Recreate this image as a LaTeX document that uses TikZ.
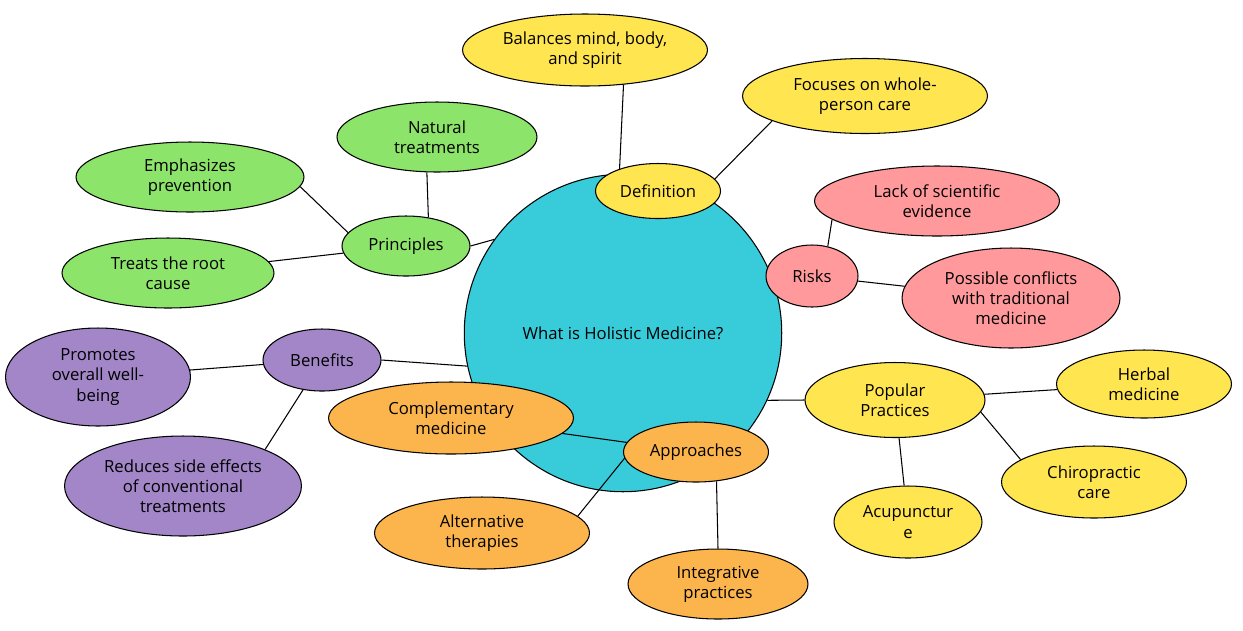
\documentclass[tikz,border=0pt]{standalone}
\usepackage{fontspec}
\setmainfont{Open Sans}
\usepackage{tikz}
\usetikzlibrary{shapes.geometric,positioning,backgrounds}
\definecolor{hmcyan}{HTML}{38CCDA}
\definecolor{hmyellow}{HTML}{FFE54F}
\definecolor{hmpink}{HTML}{FF999C}
\definecolor{hmgreen}{HTML}{8DE46A}
\definecolor{hmpurple}{HTML}{A386C8}
\definecolor{hmorange}{HTML}{FCB44D}

\begin{document}
\begin{tikzpicture}[x=0.02cm, y=-0.02cm,
  bub/.style={ellipse, draw, line width=0.6pt, inner sep=0pt},
  txt/.style={align=center, font=\fontsize{9.5}{11.5}\selectfont},
  link/.style={line width=0.6pt}]
  \useasboundingbox (0,0) rectangle (1243,630);

  % hub
  \node[bub, circle, fill=hmcyan, minimum size=6.35cm, label={[txt]center:{What is Holistic Medicine?}}] (hm) at (623,333) {};

  % definition
  \node[bub, fill=hmyellow, minimum width=2.5cm, minimum height=1.1cm, label={[txt]center:{Definition}}] (def) at (658,191) {};
  \node[bub, fill=hmyellow, minimum width=4.9cm, minimum height=1.44cm, label={[txt]center:{Balances mind, body,\\and spirit}}] (bal) at (585,50) {};
  \node[bub, fill=hmyellow, minimum width=4.9cm, minimum height=1.5cm, label={[txt]center:{Focuses on whole-\\person care}}] (foc) at (865,96) {};

  % risks
  \node[bub, fill=hmpink, minimum width=1.84cm, minimum height=1.24cm, label={[txt]center:{Risks}}] (risk) at (812,276) {};
  \node[bub, fill=hmpink, minimum width=4.9cm, minimum height=1.4cm, label={[txt]center:{Lack of scientific\\evidence}}] (lack) at (937,201) {};
  \node[bub, fill=hmpink, minimum width=4.36cm, minimum height=2cm, label={[txt]center:{Possible conflicts\\with traditional\\medicine}}] (conf) at (1011,298) {};

  % principles
  \node[bub, fill=hmgreen, minimum width=2.56cm, minimum height=1.2cm, label={[txt]center:{Principles}}] (prin) at (406,246) {};
  \node[bub, fill=hmgreen, minimum width=4cm, minimum height=1.4cm, label={[txt]center:{Natural\\treatments}}] (nat) at (437,137) {};
  \node[bub, fill=hmgreen, minimum width=4.56cm, minimum height=1.4cm, label={[txt]center:{Emphasizes\\prevention}}] (emph) at (190,177) {};
  \node[bub, fill=hmgreen, minimum width=4.24cm, minimum height=1.4cm, label={[txt]center:{Treats the root\\cause}}] (root) at (168,273) {};

  % benefits
  \node[bub, fill=hmpurple, minimum width=2.36cm, minimum height=1.24cm, label={[txt]center:{Benefits}}] (ben) at (322,360) {};
  \node[bub, fill=hmpurple, minimum width=3.7cm, minimum height=1.96cm, label={[txt]center:{Promotes\\overall well-\\being}}] (prom) at (98,377) {};
  \node[bub, fill=hmpurple, minimum width=4.74cm, minimum height=2cm, label={[txt]center:{Reduces side effects\\of conventional\\treatments}}] (red) at (183,486) {};

  % approaches
  \node[bub, fill=hmorange, minimum width=2.9cm, minimum height=1.2cm, label={[txt]center:{Approaches}}] (appr) at (696,452) {};
  \node[bub, fill=hmorange, minimum width=4.9cm, minimum height=1.44cm, label={[txt]center:{Complementary\\medicine}}] (comp) at (451,418) {};
  \node[bub, fill=hmorange, minimum width=4.3cm, minimum height=1.44cm, label={[txt]center:{Alternative\\therapies}}] (alt) at (482,533) {};
  \node[bub, fill=hmorange, minimum width=3.6cm, minimum height=1.4cm, label={[txt]center:{Integrative\\practices}}] (integ) at (718,584) {};

  % popular practices
  \node[bub, fill=hmyellow, minimum width=3.6cm, minimum height=1.5cm, label={[txt]center:{Popular\\Practices}}] (pop) at (895,400) {};
  \node[bub, fill=hmyellow, minimum width=3.5cm, minimum height=1.36cm, label={[txt]center:{Herbal\\medicine}}] (herb) at (1144,384) {};
  \node[bub, fill=hmyellow, minimum width=3.7cm, minimum height=1.44cm, label={[txt]center:{Chiropractic\\care}}] (chiro) at (1094,482) {};
  \node[bub, fill=hmyellow, minimum width=2.96cm, minimum height=1.44cm, label={[txt]center:{Acupunctur\\e}}] (acu) at (908,522) {};

  % hub links, behind the bubbles
  \begin{scope}[on background layer]
    \draw[link] (hm) -- (def);
    \draw[link] (hm) -- (risk);
    \draw[link] (hm) -- (appr);
    \draw[link] (hm.144) -- (prin.east);
    \draw[link] (hm.192) -- (ben.east);
    \draw[link] (hm.-25) -- (pop.west);
  \end{scope}

  % branch links
  \draw[link] (def.150) -- (bal.-42);
  \draw[link] (def.12) -- (foc.195);
  \draw[link] (risk.62) -- (lack.190);
  \draw[link] (risk) -- (conf);
  \draw[link] (prin.52) -- (nat.-106);
  \draw[link] (prin.167) -- (emph.-5);
  \draw[link] (prin) -- (root);
  \draw[link] (ben) -- (prom);
  \draw[link] (ben) -- (red.24);
  \draw[link] (appr) -- (comp);
  \draw[link] (appr.185) -- (alt.10);
  \draw[link] (appr.-55) -- (integ.north);
  \draw[link] (pop) -- (herb);
  \draw[link] (pop.-8) -- (chiro.163);
  \draw[link] (pop) -- (acu);
\end{tikzpicture}
\end{document}
